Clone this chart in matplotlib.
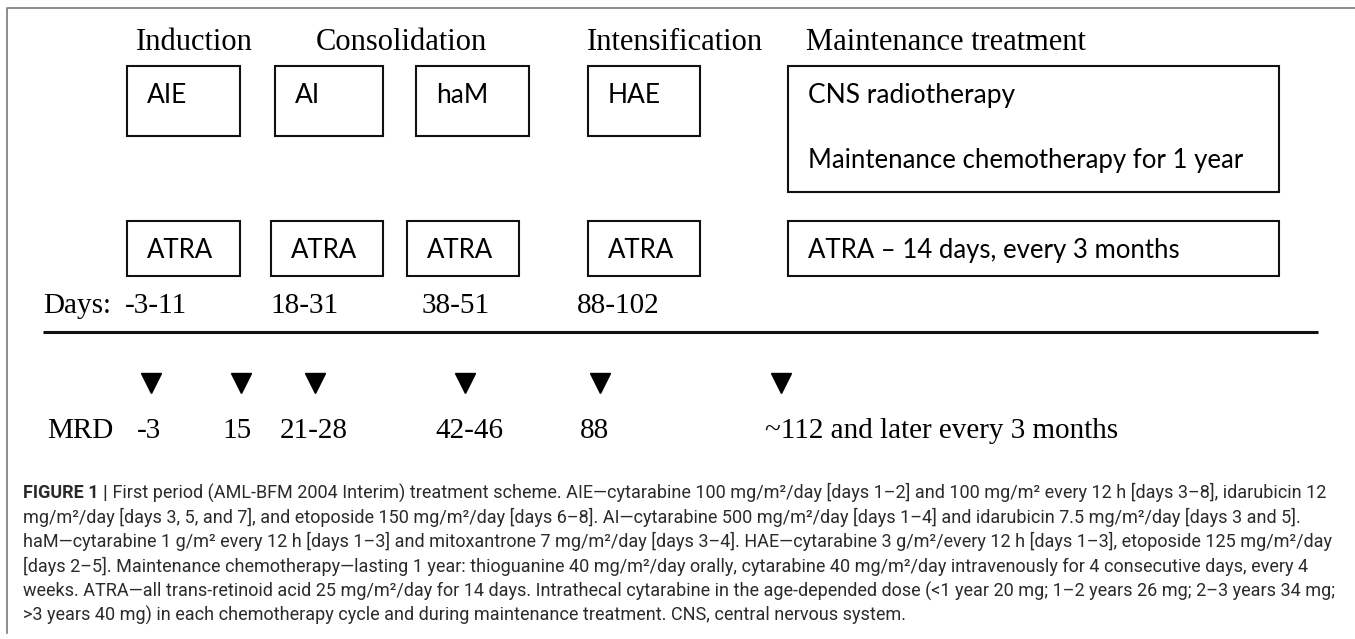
import matplotlib
matplotlib.use('Agg')
import matplotlib.pyplot as plt
from matplotlib import font_manager
from matplotlib.patches import Rectangle

# --- content ---
phases = ['Induction', 'Consolidation', 'Intensification', 'Maintenance treatment']
regimens = ['AIE', 'AI', 'haM', 'HAE']
maint_items = ['CNS radiotherapy', 'Maintenance chemotherapy for 1 year']
atra_labels = ['ATRA', 'ATRA', 'ATRA', 'ATRA', 'ATRA \u2013 14 days, every 3 months']
days_label = 'Days:'
day_ranges = ['-3-11', '18-31', '38-51', '88-102']
mrd_label = 'MRD'
mrd_days = ['-3', '15', '21-28', '42-46', '88', '~112 and later every 3 months']
caption_head = 'FIGURE 1 |'
caption_lines = [
    ' First period (AML-BFM 2004 Interim) treatment scheme. AIE\u2014cytarabine 100 mg/m\u00b2/day [days 1\u20132] and 100 mg/m\u00b2 every 12 h [days 3\u20138], idarubicin 12',
    'mg/m\u00b2/day [days 3, 5, and 7], and etoposide 150 mg/m\u00b2/day [days 6\u20138]. AI\u2014cytarabine 500 mg/m\u00b2/day [days 1\u20134] and idarubicin 7.5 mg/m\u00b2/day [days 3 and 5].',
    'haM\u2014cytarabine 1 g/m\u00b2 every 12 h [days 1\u20133] and mitoxantrone 7 mg/m\u00b2/day [days 3\u20134]. HAE\u2014cytarabine 3 g/m\u00b2/every 12 h [days 1\u20133], etoposide 125 mg/m\u00b2/day',
    '[days 2\u20135]. Maintenance chemotherapy\u2014lasting 1 year: thioguanine 40 mg/m\u00b2/day orally, cytarabine 40 mg/m\u00b2/day intravenously for 4 consecutive days, every 4',
    'weeks. ATRA\u2014all trans-retinoid acid 25 mg/m\u00b2/day for 14 days. Intrathecal cytarabine in the age-depended dose (<1 year 20 mg; 1\u20132 years 26 mg; 2\u20133 years 34 mg;',
    '>3 years 40 mg) in each chemotherapy cycle and during maintenance treatment. CNS, central nervous system.',
]

# --- layout (pixel coordinates) ---
phase_x = [136, 316, 587, 806]
top_boxes = [(127, 240), (275, 383), (416, 529), (588, 700)]
maint_box = (788, 1279)
atra_boxes = [(127, 240), (271, 383), (407, 519), (588, 700), (788, 1279)]
day_x = [125, 270, 422, 577]
tri_x = [151, 241, 315, 465, 600, 781]
mrd_x = [137, 222, 280, 435, 580, 765]

names = {f.name for f in font_manager.fontManager.ttflist}
serif = 'Liberation Serif'
sans = 'Lato'
cap_font = 'Liberation Sans Narrow' if 'Liberation Sans Narrow' in names else 'Roboto'

fig = plt.figure(figsize=(13.55, 6.39), dpi=100)
ax = fig.add_axes([0, 0, 1, 1])
ax.set_xlim(0, 1355)
ax.set_ylim(639, 0)
ax.axis('off')

# outer frame (left and top edges only)
ax.plot([7, 7, 1355], [633, 8, 8], color='#7a7a7a', lw=1.2, solid_joinstyle='round')

# phase headers
for name, x in zip(phases, phase_x):
    ax.text(x, 50, name, family=serif, fontsize=22, va='baseline', ha='left')

def box(x0, x1, y0, y1):
    ax.add_patch(Rectangle((x0, y0), x1 - x0, y1 - y0, fill=False,
                           edgecolor='#111111', lw=1.5))

for reg, (x0, x1) in zip(regimens, top_boxes):
    box(x0, x1, 66, 136)
    ax.text(x0 + 20, 103, reg, family=sans, fontsize=19, va='baseline')

box(maint_box[0], maint_box[1], 66, 192)
ax.text(maint_box[0] + 20, 103, maint_items[0], family=sans, fontsize=19, va='baseline')
ax.text(maint_box[0] + 20, 168, maint_items[1], family=sans, fontsize=18.5, va='baseline')

for lab, (x0, x1) in zip(atra_labels, atra_boxes):
    box(x0, x1, 221, 276)
    ax.text(x0 + 20, 258, lab, family=sans, fontsize=18.5, va='baseline')

# days row
ax.text(43, 313, days_label, family=serif, fontsize=21, va='baseline')
for lab, x in zip(day_ranges, day_x):
    ax.text(x, 313, lab, family=serif, fontsize=21, va='baseline')

ax.plot([43, 1318], [332, 332], color='#111111', lw=2.2, solid_capstyle='butt')

# MRD time points
ax.plot(tri_x, [383] * len(tri_x), 'v', color='black', markersize=14.5, linestyle='none')
ax.text(47, 438, mrd_label, family=serif, fontsize=21, va='baseline')
for lab, x in zip(mrd_days, mrd_x):
    ax.text(x, 438, lab, family=serif, fontsize=21, va='baseline')

# caption
cap_col = '#2b2b2b'
cap_size = 14
cap_texts = []
head = ax.text(23, 498, caption_head, family=cap_font, fontsize=cap_size,
               fontweight='bold', va='baseline', color=cap_col)
first = ax.annotate(caption_lines[0], xy=(1, 0), xycoords=head, va='bottom', ha='left',
                    family=cap_font, fontsize=cap_size, color=cap_col)
cap_texts += [head, first]
for i, line in enumerate(caption_lines[1:], start=1):
    t = ax.text(23, 498 + 24.6 * i, line, family=cap_font, fontsize=cap_size,
                va='baseline', color=cap_col)
    cap_texts.append(t)

# shrink the caption so its long lines end where the reference's do
fig.canvas.draw()
r = fig.canvas.get_renderer()
w = cap_texts[5].get_window_extent(r).width
scale = 1318 / w
for t in cap_texts:
    t.set_fontsize(cap_size * scale)

fig.savefig('out.png', dpi=100, facecolor='white')
